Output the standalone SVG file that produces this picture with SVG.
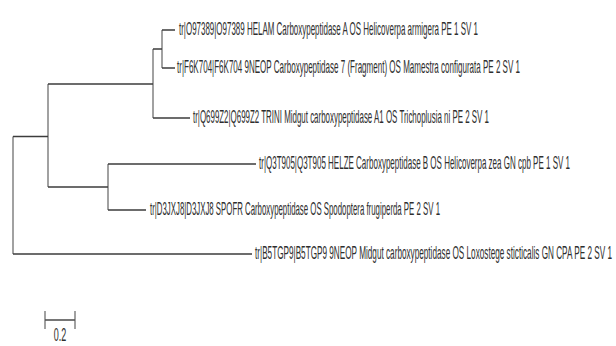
<svg xmlns="http://www.w3.org/2000/svg" width="616" height="346" viewBox="0 0 616 346">
<style>
.e{stroke:#3c3c3c;stroke-width:1.4;fill:none}
.v{stroke:#555;stroke-width:1.1;fill:none}
.t{font-family:"Liberation Sans Narrow","Liberation Sans",Arial,sans-serif;font-size:18px;fill:#2e2e2e}
</style>
<rect width="616" height="346" fill="#fff"/>
<g id="connectors">
<path class="v" d="M13,136.5V254 M48,84V187 M108,164V210 M153,49V118 M162,30V68"/>
<path class="e" d="M13,136.5H48 M13,254H252 M48,84H153 M48,187H108 M108,164H256 M108,210H146 M153,49H162 M153,118H190 M162,30H175 M162,68H175"/>
</g>
<g id="tip1"><text class="t" transform="translate(179,35) scale(0.4,1)" textLength="747.5" lengthAdjust="spacingAndGlyphs">tr|O97389|O97389 HELAM Carboxypeptidase A OS Helicoverpa armigera PE 1 SV 1</text></g>
<g id="tip2"><text class="t" transform="translate(177,73) scale(0.4,1)" textLength="857.5" lengthAdjust="spacingAndGlyphs">tr|F6K704|F6K704 9NEOP Carboxypeptidase 7 (Fragment) OS Mamestra configurata PE 2 SV 1</text></g>
<g id="tip3"><text class="t" transform="translate(193,123) scale(0.4,1)" textLength="740" lengthAdjust="spacingAndGlyphs">tr|Q699Z2|Q699Z2 TRINI Midgut carboxypeptidase A1 OS Trichoplusia ni PE 2 SV 1</text></g>
<g id="tip4"><text class="t" transform="translate(259,169) scale(0.4,1)" textLength="777.5" lengthAdjust="spacingAndGlyphs">tr|Q3T905|Q3T905 HELZE Carboxypeptidase B OS Helicoverpa zea GN cpb PE 1 SV 1</text></g>
<g id="tip5"><text class="t" transform="translate(150,215) scale(0.4,1)" textLength="725" lengthAdjust="spacingAndGlyphs">tr|D3JXJ8|D3JXJ8 SPOFR Carboxypeptidase OS Spodoptera frugiperda PE 2 SV 1</text></g>
<g id="tip6"><text class="t" transform="translate(255,258.5) scale(0.4,1)" textLength="892.5" lengthAdjust="spacingAndGlyphs">tr|B5TGP9|B5TGP9 9NEOP Midgut carboxypeptidase OS Loxostege sticticalis GN CPA PE 2 SV 1</text></g>
<g id="scale">
<path class="e" d="M45,320H75"/>
<path class="v" d="M45,311V329 M75,311V329"/>
<text class="t" transform="translate(60,341) scale(0.5,1)" text-anchor="middle" font-size="14">0.2</text>
</g>
</svg>
